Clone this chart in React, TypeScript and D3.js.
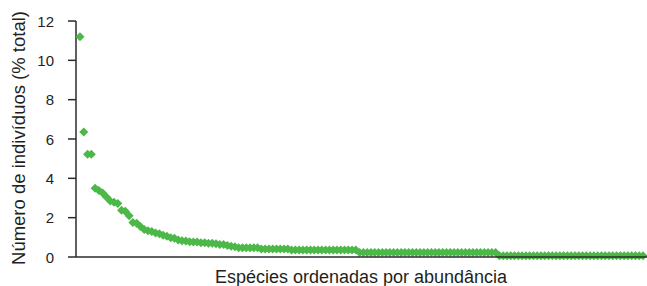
import React from "react";
import * as d3 from "d3";

const yTicks = [0, 2, 4, 6, 8, 10, 12];
const yLabel = "Número de indivíduos (% total)";
const xLabel = "Espécies ordenadas por abundância";

const values: number[] = [
  11.2, 6.35, 5.22, 5.22, 3.5, 3.38, 3.25, 3.05, 2.85, 2.78,
  2.72, 2.38, 2.32, 2.1, 1.75, 1.72, 1.55, 1.4, 1.33, 1.3,
  1.22, 1.18, 1.1, 1.05, 0.98, 0.95, 0.87, 0.82, 0.81, 0.78,
  0.76, 0.76, 0.72, 0.72, 0.7, 0.7, 0.68, 0.64, 0.64, 0.58,
  0.55, 0.52, 0.47, 0.47, 0.47, 0.47, 0.47, 0.47, 0.41, 0.41,
  0.41, 0.41, 0.41, 0.41, 0.41, 0.41, 0.35, 0.35, 0.35, 0.35,
  0.35, 0.35, 0.35, 0.35, 0.35, 0.35, 0.35, 0.35, 0.35, 0.35,
  0.35, 0.35, 0.35, 0.35, 0.23, 0.23, 0.23, 0.23, 0.23, 0.23,
  0.23, 0.23, 0.23, 0.23, 0.23, 0.23, 0.23, 0.23, 0.23, 0.23,
  0.23, 0.23, 0.23, 0.23, 0.23, 0.23, 0.23, 0.23, 0.23, 0.23,
  0.23, 0.23, 0.23, 0.23, 0.23, 0.23, 0.23, 0.23, 0.23, 0.23,
  0.23, 0.06, 0.06, 0.06, 0.06, 0.06, 0.06, 0.06, 0.06, 0.06,
  0.06, 0.06, 0.06, 0.06, 0.06, 0.06, 0.06, 0.06, 0.06, 0.06,
  0.06, 0.06, 0.06, 0.06, 0.06, 0.06, 0.06, 0.06, 0.06, 0.06,
  0.06, 0.06, 0.06, 0.06, 0.06, 0.06, 0.06, 0.06, 0.06, 0.06,
];

const W = 647;
const H = 286;
const axisX = 76;
const axisY = 257;
const green = "#4cb848";
const axisColor = "#2b2b2b";
const font = "'Liberation Sans', Arial, sans-serif";

export default function App() {
  const x = d3
    .scalePoint<number>()
    .domain(values.map((_, i) => i))
    .range([80, 643]);
  const y = d3.scaleLinear().domain([0, 12]).range([axisY, 21]);
  const r = 4.5;
  const diamond = `M0,${-r}L${r},0L0,${r}L${-r},0Z`;

  return (
    <svg
      width={W}
      height={H}
      style={{ position: "absolute", left: 0, top: 0, background: "#fff" }}
    >
      {/* y axis */}
      <line x1={axisX} x2={axisX} y1={y(12)} y2={axisY} stroke={axisColor} strokeWidth={1.5} />
      {yTicks.map((t) => (
        <g key={t}>
          <line x1={axisX - 8} x2={axisX} y1={y(t)} y2={y(t)} stroke={axisColor} strokeWidth={1.5} />
          <text
            x={54}
            y={y(t)}
            textAnchor="end"
            dominantBaseline="central"
            fontFamily={font}
            fontSize={15}
            fill="#231f20"
          >
            {t}
          </text>
        </g>
      ))}
      {/* points */}
      {values.map((v, i) => (
        <path key={i} d={diamond} transform={`translate(${x(i)},${y(v)})`} fill={green} />
      ))}
      {/* x axis */}
      <line x1={axisX} x2={W} y1={axisY} y2={axisY} stroke={axisColor} strokeWidth={1.5} />
      <text
        x={361}
        y={277}
        textAnchor="middle"
        dominantBaseline="central"
        fontFamily={font}
        fontSize={18}
        fill="#231f20"
      >
        {xLabel}
      </text>
      <text
        transform={`translate(18,138) rotate(-90)`}
        textAnchor="middle"
        dominantBaseline="central"
        fontFamily={font}
        fontSize={18.5}
        fill="#231f20"
      >
        {yLabel}
      </text>
    </svg>
  );
}
